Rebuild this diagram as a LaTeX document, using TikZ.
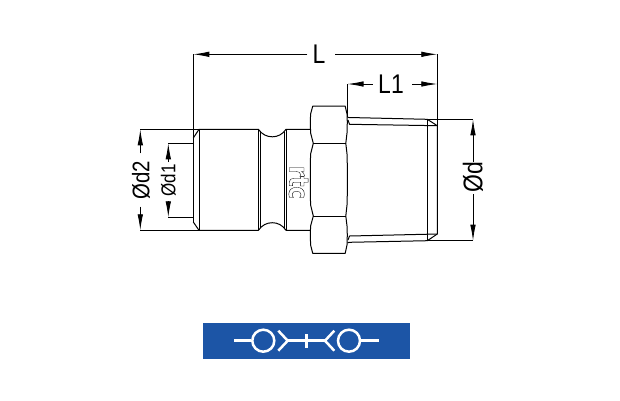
\documentclass[tikz,border=0pt]{standalone}
\usepackage{fontspec}
\usepackage{graphicx}
\setmainfont{Liberation Sans}
\newfontfamily\markfont{DejaVu Sans}
\usetikzlibrary{arrows.meta}
\definecolor{plate}{HTML}{1C55A6}
\newcommand{\dimtext}[2]{\fontsize{#1}{#1}\selectfont\scalebox{.85}[1]{#2}}
\tikzset{
  x=1pt,y=-1pt,
  part/.style={draw=black,line width=1pt,line join=round},
  dimline/.style={draw=black,line width=.85pt},
  dimtip/.style={-{Latex[length=16pt,width=5.5pt]},draw=black,line width=.85pt},
  dimlabel/.style={inner sep=0pt,text=black},
  symbol/.style={draw=white,line width=2.5pt},
}
\begin{document}
\begin{tikzpicture}
\useasboundingbox (0,0) rectangle (620,400);
% coupling outline
\path[part] (193.3,138) -- (199,129.3) -- (258.4,129.3)
  .. controls (262,134.5) and (267,136.8) .. (272.3,136.8)
  .. controls (277.5,136.8) and (282.5,134.5) .. (286,129.3)
  -- (310.5,129.3);
\path[part] (193.3,222) -- (199,230.3) -- (258.4,230.3)
  .. controls (262,225) and (267,222.7) .. (272.3,222.7)
  .. controls (277.5,222.7) and (282.5,225) .. (286,230.3)
  -- (310.5,230.3);
\path[part] (193.3,138) -- (193.3,222);
\path[part] (199,129.3) -- (199,230.3);
\path[part] (258.4,129.3) -- (258.4,230.3);
\path[part] (260.4,131.5) -- (260.4,228.2);
\path[part] (284.3,131.5) -- (284.3,228.2);
\path[part] (286,129.3) -- (286,230.3);
% hexagon
\path[part] (312.7,106.2) -- (345.2,106.2)
  -- (347,114) -- (347.3,122) -- (347,133) -- (345.8,143.3)
  -- (347,154) -- (347.3,165) -- (347.3,194) -- (347,205) -- (345.8,216)
  -- (347,226) -- (347.3,235) -- (347,245) -- (345.2,253.3)
  -- (312.7,253.3)
  -- (310.6,245) -- (310.3,235) -- (310.6,226) -- (313.3,216)
  -- (310.6,205) -- (310.3,194) -- (310.3,165) -- (310.6,154) -- (313.3,143.3)
  -- (310.6,133) -- (310.3,122) -- (310.6,114) -- cycle;
\path[part] (313.3,143.3) -- (345.8,143.3);
\path[part] (313.3,216) -- (345.8,216);
% thread
\path[part] (347.5,117.3) -- (349,117.5) -- (427.3,119.3) -- (437.3,125.7) -- (437.3,234) -- (427.3,240.7) -- (349,242.3) -- (347.5,243);
\path[part] (348,120) -- (349.5,124.3) -- (437.3,125.7);
\path[part] (348,240) -- (349.5,236) -- (437.3,234);
\path[part] (427.3,119.3) -- (427.3,240.7);
% extension lines
\path[dimline] (193.3,54.3) -- (193.3,138);
\path[dimline] (437.3,54.3) -- (437.3,125.7);
\path[dimline] (347.5,84) -- (347.5,117.3);
\path[dimline] (140.3,129.3) -- (199,129.3);
\path[dimline] (140.3,230.3) -- (199,230.3);
\path[dimline] (168.3,143.3) -- (194,143.3);
\path[dimline] (168.3,217.3) -- (194,217.3);
\path[dimline] (427.3,119.3) -- (473,119.3);
\path[dimline] (427.3,240.7) -- (473,240.7);
% labels
\node[dimlabel] (labL) at (319,54.5) {\dimtext{27}{L}};
\node[dimlabel] (labLone) at (391,84.5) {\dimtext{27}{L1}};
\node[dimlabel,rotate=90] (labdtwo) at (141,180.5) {\dimtext{24}{Ød2}};
\node[dimlabel,rotate=90] (labdone) at (168.5,180.5) {\dimtext{20}{Ød1}};
\node[dimlabel,rotate=90] (labd) at (473,177.5) {\dimtext{27}{Ød}};
% anchors of the dimension lines
\coordinate (Lleft) at (193.3,54.3);
\coordinate (Lright) at (437.3,54.3);
\coordinate (Lonel) at (347.5,84);
\coordinate (Loner) at (437.3,84);
\coordinate (dtwot) at (140.3,129.3);
\coordinate (dtwob) at (140.3,230.3);
\coordinate (donet) at (168.3,143.3);
\coordinate (doneb) at (168.3,217.3);
\coordinate (dt) at (473,119.3);
\coordinate (db) at (473,240.7);
% dimension lines
\draw[dimtip] (307.3,54.3) -- (Lleft);
\draw[dimtip] (335,54.3) -- (Lright);
\draw[dimtip] (372.7,84) -- (Lonel);
\draw[dimtip] (412,84) -- (Loner);
\draw[dimtip] (140.3,153.3) -- (dtwot);
\draw[dimtip] (140.3,206.7) -- (dtwob);
\draw[dimtip] (168.3,162) -- (donet);
\draw[dimtip] (168.3,201) -- (doneb);
\draw[dimtip] (473,162) -- (dt);
\draw[dimtip] (473,194) -- (db);
% maker mark
\node[inner sep=0pt,rotate=-90] (mark) at (298.5,182.5)
  {\markfont\bfseries\fontsize{27}{27}\selectfont\scalebox{.78}[1]{\special{pdf: code 1 Tr 0.4 w}rtc\special{pdf: code 0 Tr}}};
% plate
\fill[plate] (203,323.3) rectangle (410,359);
\coordinate (plL) at (234,340.7);
\coordinate (plR) at (379.3,340.7);
\node[symbol,circle,minimum size=22pt,inner sep=0pt] (cL) at (263.3,340.7) {};
\node[symbol,circle,minimum size=22pt,inner sep=0pt] (cR) at (349,340.7) {};
\coordinate (chL) at (287.7,340.7);
\coordinate (chR) at (325,340.7);
\draw[symbol] (plL) -- (cL);
\draw[symbol] (cR) -- (plR);
\draw[symbol] (278.3,330.7) -- (chL) -- (278.3,350.7);
\draw[symbol] (334.3,330.7) -- (chR) -- (334.3,350.7);
\draw[symbol] (chL) -- (chR);
\draw[symbol] (306.7,334) -- (306.7,347.7);
\end{tikzpicture}
\end{document}
